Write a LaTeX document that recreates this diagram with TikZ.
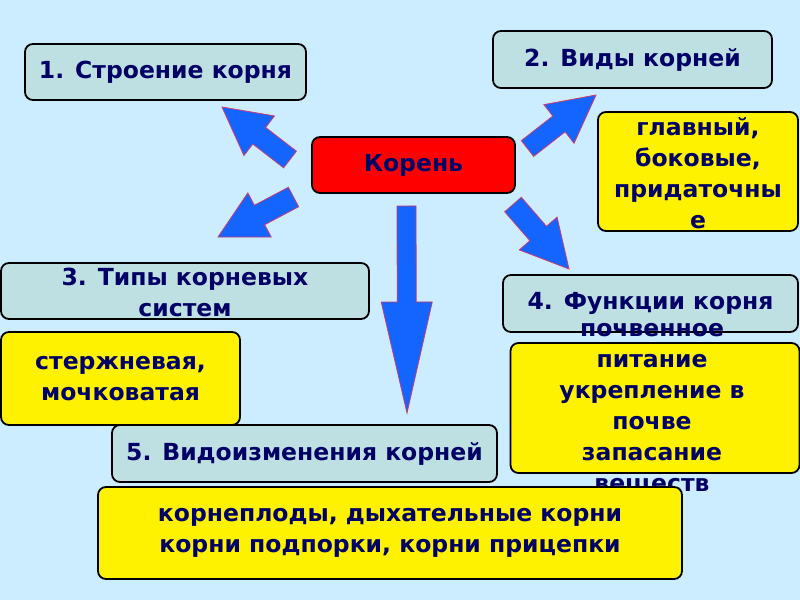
\documentclass[tikz,border=0pt]{standalone}
\usepackage{fontspec}
\setmainfont{DejaVu Sans}
\usetikzlibrary{calc}
\definecolor{bgblue}{RGB}{204,236,255}
\definecolor{tealfill}{RGB}{190,224,226}
\definecolor{navytext}{RGB}{0,0,102}
\definecolor{arrowblue}{RGB}{20,100,255}
\definecolor{arrowedge}{RGB}{204,60,110}
\tikzset{
  boxbase/.style={draw=black, line width=1.8pt, rounded corners=8pt, inner sep=0pt,
    font=\bfseries\fontsize{23.5}{31}\selectfont, text=navytext, align=center},
  topic/.style={boxbase, fill=tealfill},
  answer/.style={boxbase, fill=yellow},
  rootbox/.style={boxbase, fill=red},
  txt/.style={font=\bfseries\fontsize{23.5}{31}\selectfont, text=navytext, align=center, inner sep=0pt},
  blockarr/.style={fill=arrowblue, draw=arrowedge, line width=0.8pt, line join=miter}
}
% block arrow: tail, tip, half shaft, half head, head length
\newcommand{\blockarrow}[5]{%
  \coordinate (hb) at ($(#2)!#5!(#1)$);
  \draw[blockarr] ($(#1)!#3!90:(#2)$) -- ($(hb)!#3!90:(#2)$) -- ($(hb)!#4!90:(#2)$)
    -- (#2) -- ($(hb)!#4!-90:(#2)$) -- ($(hb)!#3!-90:(#2)$) -- ($(#1)!#3!-90:(#2)$) -- cycle;
}

\begin{document}
\begin{tikzpicture}[x=1pt,y=-1pt]
\useasboundingbox (0,0) rectangle (800,600);
\fill[bgblue] (0,0) rectangle (800,600);

\node[topic, minimum width=281pt, minimum height=56pt] (stroenie) at (165.5,72) {1. Строение корня};
\node[rootbox, minimum width=203pt, minimum height=56pt] (koren) at (413.5,165) {Корень};
\node[topic, minimum width=279pt, minimum height=57pt] (vidy) at (632.5,59.5) {2. Виды корней};

\node[answer, minimum width=200pt, minimum height=119pt] (vidyans) at (698,171.5) {};
\node[txt] (vidytxt) at (698,173) {главный,\\боковые,\\придаточны\\е};

\node[topic, minimum width=368pt, minimum height=56pt] (tipy) at (185,291) {};
\node[txt] (tipytxt) at (185,292) {3. Типы корневых\\систем};
\node[answer, minimum width=239pt, minimum height=93pt] (tipyans) at (120.5,378.5) {стержневая,\\мочковатая};

\node[topic, minimum width=295pt, minimum height=57pt] (funk) at (650.5,303.5) {4. Функции корня};
\node[answer, minimum width=289pt, minimum height=130pt] (funkans) at (655,408) {};
\node[txt] (funktxt) at (652,409) {почвенное\\питание\\укрепление в\\почве\\запасание\\веществ};

\node[topic, minimum width=385pt, minimum height=57pt] (vidoizm) at (304.5,453.5) {5. Видоизменения корней};
\node[answer, minimum width=584pt, minimum height=92pt] (vidoizmans) at (390,533) {корнеплоды, дыхательные корни\\корни подпорки, корни прицепки};

% arrows from the root box
\coordinate (a1s) at (290,159.5); \coordinate (a1e) at (222,107);
\coordinate (a2s) at (527.5,148.5); \coordinate (a2e) at (596,95);
\coordinate (a3s) at (293.5,197); \coordinate (a3e) at (218,237);
\coordinate (a4s) at (513,204.5); \coordinate (a4e) at (569,269);
\coordinate (a5s) at (406.5,206); \coordinate (a5e) at (407,413);
\blockarrow{a1s}{a1e}{10.5pt}{25pt}{47pt}
\blockarrow{a2s}{a2e}{10pt}{24.5pt}{47pt}
\blockarrow{a3s}{a3e}{11pt}{25pt}{47pt}
\blockarrow{a4s}{a4e}{11pt}{25pt}{47pt}
\blockarrow{a5s}{a5e}{9.5pt}{25.5pt}{111pt}
\end{tikzpicture}
\end{document}
